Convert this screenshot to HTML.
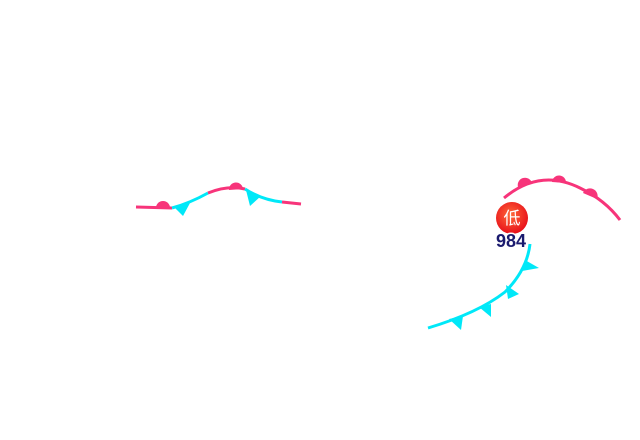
<!DOCTYPE html>
<html><head><meta charset="utf-8"><style>
html,body{margin:0;padding:0;background:#fff;width:640px;height:440px;overflow:hidden}
</style></head><body>
<svg width="640" height="440" viewBox="0 0 640 440" xmlns="http://www.w3.org/2000/svg">
<defs>
<radialGradient id="g" cx="0.45" cy="0.4" r="0.6">
<stop offset="0" stop-color="#ff6a3a"/><stop offset="1" stop-color="#e8101a"/>
</radialGradient>
</defs>
<g fill="none" stroke-width="3" stroke-linecap="butt">
<path d="M136,207 L172,208" stroke="#f7347a"/>
<path d="M172,208 Q190,203 208,193" stroke="#00e8f8"/>
<path d="M208,193 Q228,185 245,189" stroke="#f7347a"/>
<path d="M245,189 Q262,200 282,202" stroke="#00e8f8"/>
<path d="M282,202 L301,204" stroke="#f7347a"/>
</g>
<path d="M156,208 A7,7 0 0 1 170,208 Z" fill="#f7347a"/>
<path d="M229,190 A7,7 0 0 1 243,189 Z" fill="#f7347a"/>
<path d="M174,207 L190,203 L183,216 Z" fill="#00e8f8"/>
<path d="M246,190 L261,196 L250,206 Z" fill="#00e8f8"/>
<path d="M504,198 Q540,168 580,188 Q605,200 620,220" fill="none" stroke="#f7347a" stroke-width="3"/>
<path d="M518,187 A7,7 0 0 1 532,183 Z" fill="#f7347a"/>
<path d="M552,182 A7,7 0 0 1 566,183 Z" fill="#f7347a"/>
<path d="M583,193 A7,7 0 0 1 597,199 Z" fill="#f7347a"/>
<path d="M530,244 Q527,270 505,292 Q478,313 428,328" fill="none" stroke="#00e8f8" stroke-width="3"/>
<path d="M525,260 L539,268 L522,271 Z" fill="#00e8f8"/>
<path d="M506,285 L519,294 L508,299 Z" fill="#00e8f8"/>
<path d="M479,307 L491,304 L491,317 Z" fill="#00e8f8"/>
<path d="M449,319 L463,316 L461,330 Z" fill="#00e8f8"/>
<circle cx="512" cy="218" r="16" fill="url(#g)"/>
<text x="512" y="224" text-anchor="middle" font-family="'Noto Sans CJK SC',sans-serif" font-size="17" fill="#fff">低</text>
<text x="511" y="247" text-anchor="middle" font-family="'Liberation Sans',sans-serif" font-size="18" font-weight="bold" fill="#1a1a6e" stroke="#fff" stroke-width="3" paint-order="stroke">984</text>
</svg>
</body></html>
